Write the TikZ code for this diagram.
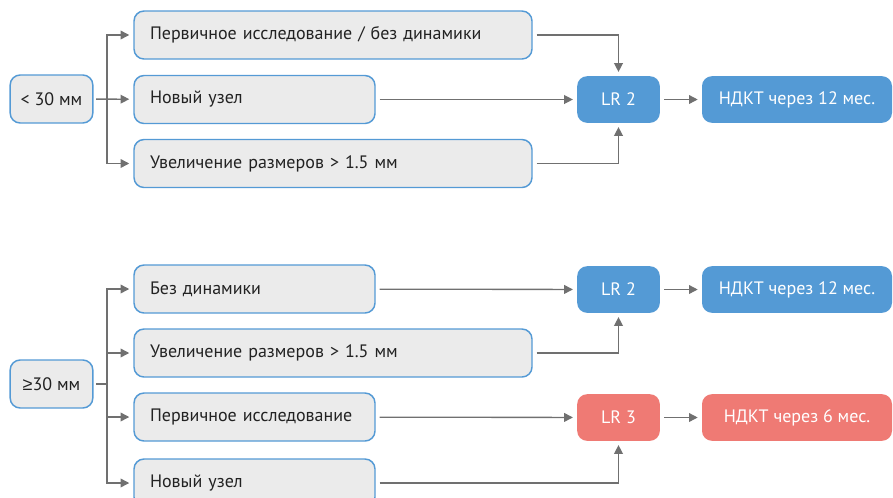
\documentclass[tikz,border=0pt]{standalone}
\usepackage{fontspec}
\setmainfont{PT Sans}
\newfontfamily\symfont{Liberation Sans}
\usepackage{tikz}
\usetikzlibrary{arrows.meta,positioning,calc}
\definecolor{boxblue}{RGB}{84,154,213}
\definecolor{boxred}{RGB}{239,122,116}
\definecolor{boxgray}{RGB}{235,235,235}
\definecolor{linegray}{RGB}{112,112,112}
\definecolor{textdark}{RGB}{34,34,34}

\begin{document}
\begin{tikzpicture}[x=0.75pt,y=-0.75pt,
        font=\fontsize{13.5}{16}\selectfont,
        sizebox/.style={draw=boxblue, fill=boxgray, line width=1.1pt, rounded corners=7.5pt,
            minimum width=62pt, minimum height=36pt, text=textdark},
        findbox/.style={draw=boxblue, fill=boxgray, line width=1.1pt, rounded corners=7.5pt,
            minimum height=36pt, inner xsep=12pt, align=left, text=textdark},
        longbox/.style={findbox, text width=274.5pt},
        shortbox/.style={findbox, text width=156.75pt},
        lrbox/.style={fill=#1, rounded corners=7.5pt, minimum width=62pt, minimum height=35pt, text=white},
        planbox/.style={fill=#1, rounded corners=7.5pt, minimum width=142.5pt, minimum height=35pt, text=white},
        arrow/.style={draw=linegray, line width=1pt, -{Triangle[length=6.5pt,width=6.5pt]}},
        joint/.style={draw=linegray, line width=1pt}]
    \useasboundingbox (0,0) rectangle (893,497);

    % < 30 mm
    \node[sizebox] (small) at (51.5,99) {< 30 мм};
    \node[longbox] (sfirst) at (333,35) {Первичное исследование / без динамики};
    \node[shortbox] (snew) at (254.5,99.5) {Новый узел};
    \node[longbox] (sgrow) at (333,163.5) {Увеличение размеров > 1.5 мм};
    \node[lrbox=boxblue] (slr) at (618.5,99.5) {LR 2};
    \node[planbox=boxblue] (splan) at (797,99.5) {НДКТ через 12 мес.};
    \coordinate (sjoint) at (107,99);

    \draw[arrow, shorten <=2pt, shorten >=3pt] (small) -- (snew);
    \draw[arrow, shorten >=3pt] (sjoint) |- (sfirst.west);
    \draw[arrow, shorten >=3pt] (sjoint) |- (sgrow.west);
    \draw[arrow, shorten <=3pt, shorten >=3pt] (sfirst.east) -| (slr.north);
    \draw[arrow, shorten <=3pt, shorten >=3pt] (snew) -- (slr);
    \draw[arrow, shorten <=3pt, shorten >=3pt] (sgrow.east) -| (slr.south);
    \draw[arrow, shorten <=3pt, shorten >=3pt] (slr) -- (splan);

    % >= 30 mm
    \node[sizebox] (large) at (51.5,384) {{\symfont ≥}30 мм};
    \node[shortbox] (lstill) at (254.5,289) {Без динамики};
    \node[longbox] (lgrow) at (333,353) {Увеличение размеров > 1.5 мм};
    \node[shortbox] (lfirst) at (254.5,417) {Первичное исследование};
    \node[shortbox] (lnew) at (254.5,483) {Новый узел};
    \node[lrbox=boxblue] (llrtwo) at (618.5,289.5) {LR 2};
    \node[planbox=boxblue] (lplantwo) at (797,289.5) {НДКТ через 12 мес.};
    \node[lrbox=boxred] (llrthree) at (618.5,417.5) {LR 3};
    \node[planbox=boxred] (lplanthree) at (797,417.5) {НДКТ через 6 мес.};
    \coordinate (ljoint) at (107,384);

    \draw[joint, shorten <=2pt] (large) -- (ljoint);
    \draw[arrow, shorten >=3pt] (ljoint) |- (lstill.west);
    \draw[arrow, shorten >=3pt] (ljoint) |- (lgrow.west);
    \draw[arrow, shorten >=3pt] (ljoint) |- (lfirst.west);
    \draw[arrow, shorten >=3pt] (ljoint) |- (lnew.west);
    \draw[arrow, shorten <=3pt, shorten >=3pt] (lstill) -- (llrtwo);
    \draw[arrow, shorten <=3pt, shorten >=3pt] (lgrow.east) -| (llrtwo.south);
    \draw[arrow, shorten <=3pt, shorten >=3pt] (lfirst) -- (llrthree);
    \draw[arrow, shorten <=3pt, shorten >=3pt] (lnew.east) -| (llrthree.south);
    \draw[arrow, shorten <=3pt, shorten >=3pt] (llrtwo) -- (lplantwo);
    \draw[arrow, shorten <=3pt, shorten >=3pt] (llrthree) -- (lplanthree);
\end{tikzpicture}
\end{document}
